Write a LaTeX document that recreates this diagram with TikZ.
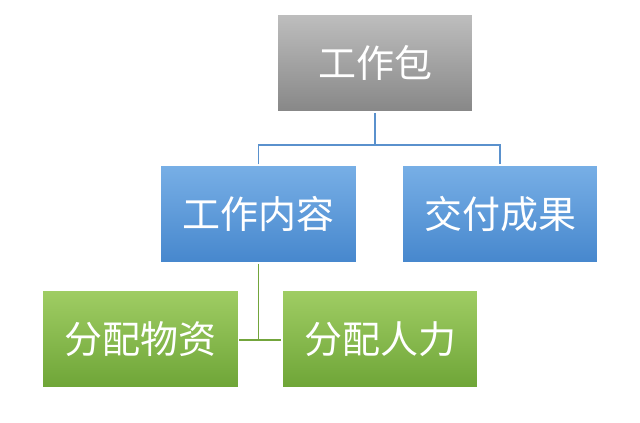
\documentclass[tikz,border=0pt]{standalone}
\usepackage{fontspec}
\newfontfamily\cjk{Noto Sans CJK SC}
\definecolor{gtop}{RGB}{190,190,190}
\definecolor{gbot}{RGB}{135,135,135}
\definecolor{btop}{RGB}{120,175,230}
\definecolor{bbot}{RGB}{70,135,205}
\definecolor{ntop}{RGB}{160,205,100}
\definecolor{nbot}{RGB}{110,165,55}
\definecolor{lblue}{RGB}{90,145,205}
\definecolor{lgreen}{RGB}{115,165,60}
\tikzset{
  box/.style={minimum width=196pt, minimum height=98pt, inner sep=0pt,
    font=\cjk\fontsize{38}{40}\selectfont, text=white, draw=white, line width=1.5pt},
  graybox/.style={box, top color=gtop, bottom color=gbot},
  bluebox/.style={box, top color=btop, bottom color=bbot},
  greenbox/.style={box, top color=ntop, bottom color=nbot},
}
\begin{document}
\begin{tikzpicture}[x=1pt,y=-1pt]
\useasboundingbox (0,0) rectangle (640,423);
\node[graybox] (top) at (375,63) {工作包};
\node[bluebox] (wc) at (258.5,214) {工作内容};
\node[bluebox] (jf) at (500,214) {交付成果};
\node[greenbox] (wz) at (140.5,339) {分配物资};
\node[greenbox] (rl) at (380,339) {分配人力};
\coordinate (bus) at (375,145);
\coordinate (gj) at (258.5,340);
\draw[lblue, line width=1.5pt] (top.south) -- (bus) (wc.north) |- (bus) -| (jf.north);
\draw[lgreen, line width=1.5pt] (wc.south) -- (gj) (wz.east |- gj) -- (rl.west |- gj);
\end{tikzpicture}
\end{document}
